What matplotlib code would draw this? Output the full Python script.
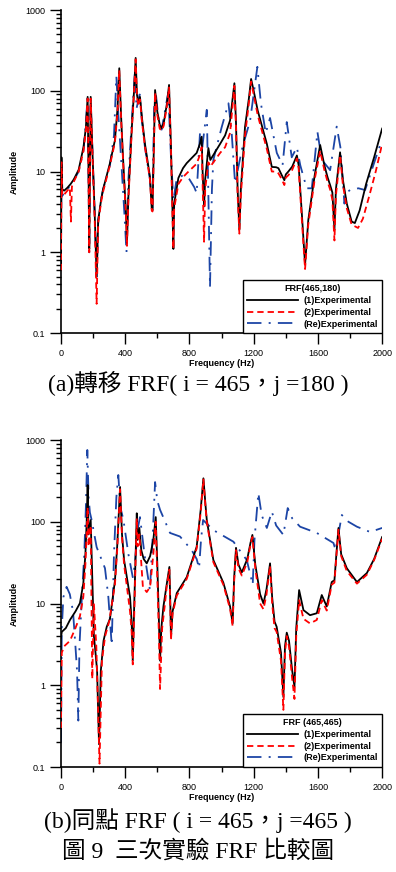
import numpy as np
import matplotlib
matplotlib.use("Agg")
import matplotlib.pyplot as plt
from matplotlib.ticker import FixedLocator, LogLocator, NullFormatter, FuncFormatter

plt.rcParams['font.family'] = ['Liberation Sans', 'DejaVu Sans']

# ---- (a) transfer FRF(465,180) ----
top_f1 = [0, 3, 8, 20, 40, 60, 80, 110, 140, 155, 166, 172, 176, 180, 185, 195, 210, 222, 232, 250,
          262, 305, 336, 352, 363, 375, 387, 405, 411, 420, 440, 455, 465, 473, 482, 492, 505, 523, 554, 565,
          570, 575, 586, 600, 615, 627, 640, 660, 673, 685, 695, 700, 705, 731, 760, 783, 845, 865, 876, 882,
          891, 898, 918, 930, 991, 1022, 1053, 1080, 1090, 1100, 1111, 1120, 1146, 1170, 1184, 1200, 1225, 1282, 1302, 1313,
          1340, 1354, 1375, 1391, 1400, 1416, 1440, 1469, 1480, 1500, 1520, 1540, 1580, 1614, 1640, 1660, 1676, 1690, 1703, 1712,
          1738, 1755, 1780, 1810, 1830, 1860, 1900, 1950, 2000]
top_a1 = [0.7, 15, 6, 5.8, 6.3, 7, 8, 10.5, 20, 35, 84, 8, 1.1, 8, 84, 20, 3, 0.5, 2.5, 4.5,
          6, 12.7, 24.5, 60, 190, 45, 14, 3, 1.3, 5, 32, 100, 255, 90, 70, 84, 45, 22, 8.6, 3.5,
          3.3, 10, 102, 55, 38, 34.5, 40, 70, 118, 20, 3, 1.1, 4, 8.3, 11, 12.7, 17, 22, 27, 10,
          3.7, 8, 19.5, 13.9, 22, 28, 43, 124, 40, 6, 1.9, 6, 35.6, 80, 140, 100, 57, 22, 14.4, 11.4,
          11.3, 11, 9, 7.8, 9.2, 10, 11.5, 15.8, 12, 3, 0.7, 2.5, 9, 21.3, 12, 8.5, 6.8, 5.5, 1.9, 6,
          17.3, 8, 4, 2.4, 2.3, 3.3, 7, 15, 34]

top_f2 = [0, 3, 8, 20, 40, 55, 62, 68, 80, 110, 140, 155, 166, 172, 176, 180, 185, 195, 210, 222,
          232, 250, 262, 305, 336, 352, 363, 375, 387, 405, 411, 420, 440, 455, 465, 473, 482, 492, 505, 523,
          554, 565, 570, 575, 586, 600, 615, 627, 640, 660, 673, 685, 695, 700, 705, 731, 760, 783, 845, 865,
          876, 882, 891, 898, 918, 930, 991, 1022, 1053, 1080, 1090, 1100, 1111, 1120, 1146, 1170, 1184, 1200, 1225, 1282,
          1302, 1313, 1340, 1354, 1375, 1391, 1400, 1416, 1440, 1469, 1480, 1500, 1520, 1540, 1580, 1614, 1640, 1660, 1676, 1690,
          1703, 1712, 1738, 1755, 1780, 1810, 1850, 1880, 1920, 1960, 2000]
top_a2 = [0.6, 13, 5, 5.2, 5.8, 6.3, 2.4, 6.5, 7.5, 10, 18, 32, 80, 8, 1.0, 7, 80, 18, 2.5, 0.23,
          2.3, 4.2, 5.6, 12, 23, 55, 180, 42, 13, 2.8, 1.2, 4.6, 30, 95, 245, 85, 65, 78, 40, 20,
          8, 3.3, 3.2, 9, 95, 50, 34, 32, 37, 65, 110, 18, 2.5, 1.1, 3.5, 7, 8.5, 9.5, 12.5, 16,
          20, 7, 1.35, 6, 13, 11.5, 17, 20, 30, 115, 35, 5, 1.7, 5, 28, 70, 130, 90, 50, 19,
          12.5, 10, 10, 9.5, 8, 6.8, 8.4, 9, 10.5, 14.5, 11, 2.5, 0.62, 2.2, 8, 18, 10.5, 7.5, 6, 4.5,
          1.4, 5, 16, 7, 3.5, 2.2, 2.0, 2.6, 5, 10, 22]

top_f3 = [0, 3, 8, 20, 40, 60, 80, 110, 140, 155, 165, 172, 176, 180, 184, 195, 210, 222, 232, 250,
          262, 305, 330, 345, 355, 370, 395, 408, 420, 440, 462, 470, 490, 505, 523, 554, 569, 580, 590, 610,
          627, 650, 668, 685, 700, 720, 760, 800, 830, 845, 866, 880, 908, 918, 928, 940, 949, 1000, 1043, 1063,
          1084, 1130, 1178, 1223, 1245, 1275, 1302, 1344, 1380, 1406, 1437, 1469, 1490, 1510, 1531, 1562, 1597, 1624, 1676, 1717,
          1740, 1765, 1780, 1800, 1852, 1894, 1935, 1977, 2000]
top_a3 = [0.6, 12, 5, 5.5, 6, 6.8, 7.8, 10, 18, 40, 80, 8, 1.0, 8, 80, 20, 3, 0.5, 2.5, 4.5,
          6, 12, 28, 150, 60, 20, 3, 1.0, 8, 40, 190, 60, 90, 40, 20, 8, 3.5, 60, 95, 40,
          33, 60, 95, 15, 4.4, 8, 9, 8, 6.4, 5.4, 31, 20, 58, 5, 0.37, 6, 14, 35, 70, 30,
          7.2, 20, 43, 198, 70, 30, 46, 17, 12, 41, 15, 20, 12, 8.6, 6.2, 6.2, 31, 14, 10.4, 36,
          20, 4, 5.5, 5.9, 6.2, 5.9, 10.4, 18.5, 25]

# ---- (b) point FRF(465,465) ----
bot_f1 = [0, 5, 30, 56, 90, 118, 139, 152, 160, 166, 172, 185, 195, 205, 212, 225, 237, 248, 265, 285,
          305, 336, 350, 368, 380, 393, 430, 440, 447, 455, 465, 472, 477, 488, 500, 515, 534, 555, 575, 590,
          600, 610, 617, 625, 638, 660, 675, 680, 685, 695, 721, 783, 845, 870, 887, 900, 908, 949, 1011, 1053,
          1069, 1078, 1090, 1105, 1126, 1160, 1180, 1192, 1210, 1240, 1261, 1280, 1302, 1315, 1330, 1343, 1370, 1385, 1395, 1406,
          1420, 1440, 1454, 1465, 1483, 1510, 1551, 1593, 1624, 1655, 1686, 1703, 1715, 1728, 1745, 1780, 1843, 1905, 1950, 2000]
bot_a1 = [3.8, 4.5, 5, 6.3, 8, 10.1, 17.6, 40, 100, 281, 70, 105, 20, 4, 2.9, 1.5, 0.19, 1.5, 3.5, 5.2,
          6.5, 19, 50, 266, 70, 34, 12, 6, 2, 8, 40, 127, 60, 84, 45, 35, 31, 38, 60, 114,
          30, 6, 2, 5, 9.2, 18, 28, 12, 3.9, 8, 13.4, 21, 49.5, 140, 340, 160, 105, 34, 18, 9.2,
          5.7, 20, 48, 30, 24, 35, 55, 69, 30, 13, 10, 15, 31, 12, 6, 5.2, 2.5, 0.72, 3, 4.4,
          3.5, 1.5, 0.96, 5, 14.6, 8.3, 7.2, 7.6, 12.7, 9.2, 18.3, 19.3, 40, 84, 40, 27, 18.3, 23.6, 35, 65]

bot_f2 = [0, 5, 20, 56, 90, 118, 139, 152, 160, 166, 172, 185, 195, 205, 220, 240, 255, 275, 300, 336,
          350, 368, 380, 393, 430, 440, 447, 455, 465, 472, 477, 488, 510, 534, 555, 575, 590, 600, 610, 617,
          630, 645, 660, 675, 680, 685, 695, 721, 783, 845, 870, 887, 900, 908, 949, 1011, 1053, 1069, 1078, 1090,
          1105, 1126, 1160, 1180, 1192, 1210, 1240, 1261, 1280, 1302, 1315, 1330, 1343, 1370, 1385, 1395, 1406, 1420, 1440, 1454,
          1465, 1483, 1510, 1551, 1593, 1624, 1655, 1686, 1703, 1715, 1728, 1745, 1780, 1843, 1905, 1950, 2000]
bot_a2 = [0.3, 2.5, 3, 3.5, 5, 7, 12, 30, 70, 150, 50, 90, 1.2, 10, 3, 0.11, 2, 4, 6, 17,
          45, 250, 65, 30, 8, 4.5, 1.8, 6, 35, 110, 50, 70, 16, 13.8, 16, 40, 100, 20, 4, 0.9,
          5, 9, 17, 26, 10, 3.6, 7.5, 12.5, 20, 47, 130, 330, 150, 100, 32, 17, 8.6, 5.3, 18, 45,
          27, 22, 32, 52, 65, 27, 10, 8.5, 13, 29, 10, 5, 4.5, 2, 0.5, 2.5, 4, 3, 1.2, 0.68,
          4, 11, 6.5, 5.7, 6.3, 11, 8.2, 17, 18, 38, 80, 38, 25, 17.5, 22.5, 34, 62]

bot_f3 = [0, 5, 15, 35, 55, 75, 90, 100, 108, 115, 130, 145, 155, 164, 172, 180, 191, 222, 274, 295,
          316, 330, 345, 357, 370, 389, 420, 447, 460, 477, 492, 520, 554, 570, 586, 600, 617, 679, 741, 814,
          845, 860, 872, 885, 949, 1074, 1157, 1194, 1205, 1229, 1250, 1282, 1313, 1340, 1385, 1412, 1440, 1489, 1593, 1697,
          1710, 1749, 1790, 1843, 1925, 2000]
bot_a3 = [0.2, 5, 12, 16, 13, 8, 3, 1.5, 0.37, 3, 12, 40, 150, 755, 200, 130, 105, 49, 27, 12,
          3.1, 40, 200, 373, 150, 105, 40, 21, 30, 80, 114, 40, 14.6, 60, 306, 180, 140, 73, 66, 45,
          35, 27, 60, 105, 79, 57, 34, 17, 60, 225, 120, 84, 133, 90, 69, 147, 110, 87, 73, 55,
          45, 121, 100, 87, 75, 84]

x_ticks = [0, 400, 800, 1200, 1600, 2000]
legend_labels = ['(1)Experimental', '(2)Experimental', '(Re)Experimental']

BLUE = '#1c45a6'
RED = '#ff0000'


def y_label_fmt(v, pos):
    if v >= 1:
        return '%d' % round(v)
    return '%g' % v


def draw_frf(ax, series, title):
    (f1, a1), (f2, a2), (f3, a3) = series
    ax.plot(f1, a1, color='black', lw=1.3, ls='-', label=legend_labels[0], zorder=3)
    ax.plot(f2, a2, color=RED, lw=1.3, ls=(0, (3.5, 2.2)), label=legend_labels[1], zorder=4)
    ax.plot(f3, a3, color=BLUE, lw=1.3, ls=(0, (8, 4, 1.1, 4)), label=legend_labels[2], zorder=2)

    ax.set_yscale('log')
    ax.set_ylim(0.1, 1000)
    ax.set_xlim(0, 2000)

    ax.xaxis.set_major_locator(FixedLocator(x_ticks))
    ax.xaxis.set_minor_locator(FixedLocator([200, 600, 1000, 1400, 1800]))
    ax.yaxis.set_major_locator(LogLocator(base=10, numticks=10))
    ax.yaxis.set_minor_locator(LogLocator(base=10, subs=np.arange(2, 10), numticks=10))
    ax.yaxis.set_major_formatter(FuncFormatter(y_label_fmt))
    ax.yaxis.set_minor_formatter(NullFormatter())

    ax.tick_params(which='major', direction='out', length=7.7, width=1, labelsize=6.5)
    ax.tick_params(which='minor', direction='out', length=3.8, width=1)
    ax.tick_params(axis='x', which='major', pad=4)
    ax.tick_params(axis='y', which='major', pad=3.5)

    for s in ['top', 'right']:
        ax.spines[s].set_visible(False)
    for s in ['left', 'bottom']:
        ax.spines[s].set_linewidth(1.2)

    ax.set_xlabel('Frequency (Hz)', fontsize=6.5, fontweight='bold', labelpad=0.5)
    ax.set_ylabel('Amplitude', fontsize=6.5, fontweight='bold', labelpad=5)

    leg = ax.legend(loc='lower right', bbox_to_anchor=(1.0, 0.0), borderaxespad=0,
                    title=title, fancybox=False, framealpha=1, edgecolor='black',
                    prop={'size': 6.5, 'weight': 'bold'}, handlelength=5.6,
                    handletextpad=0.6, labelspacing=0.3, borderpad=0.5)
    leg.get_title().set_fontweight('bold')
    leg.get_title().set_fontsize(6.5)
    leg.get_frame().set_linewidth(1.0)


fig = plt.figure(figsize=(3.96, 8.72), dpi=100)
ax1 = fig.add_axes([0.154, 0.6181, 0.811, 0.3704])
ax2 = fig.add_axes([0.154, 0.1204, 0.811, 0.3750])

draw_frf(ax1, [(top_f1, top_a1), (top_f2, top_a2), (top_f3, top_a3)], 'FRF(465,180)')
draw_frf(ax2, [(bot_f1, bot_a1), (bot_f2, bot_a2), (bot_f3, bot_a3)], 'FRF (465,465)')

cap_font = ['Liberation Serif', 'Noto Sans CJK TC']
fig.text(0.5, 1 - 383 / 872, '(a)轉移 FRF( i = 465，j =180 )', ha='center', va='center',
         fontsize=17, family=cap_font)
fig.text(0.5, 1 - 821 / 872, '(b)同點 FRF ( i = 465，j =465 )', ha='center', va='center',
         fontsize=17, family=cap_font)
fig.text(0.5, 1 - 851 / 872, '圖 9  三次實驗 FRF 比較圖', ha='center', va='center',
         fontsize=17, family=cap_font)

fig.savefig('out.png', dpi=100)
